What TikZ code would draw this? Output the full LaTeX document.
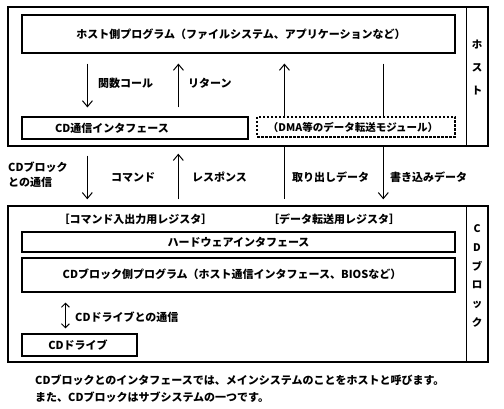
\documentclass[tikz,border=0pt]{standalone}
\usepackage{fontspec}
\usetikzlibrary{arrows.meta,calc}
\newfontfamily\jp{Noto Sans CJK JP}
\begin{document}
\begin{tikzpicture}[x=1pt,y=-1pt,
  txt/.style={font=\jp\bfseries\fontsize{11}{13}\selectfont, inner sep=0pt},
  box/.style={draw, line width=1.1pt, inner sep=0pt},
  outer/.style={draw, line width=1.4pt, inner sep=0pt},
  arr/.style={line width=1pt, -{Straight Barb[length=6pt,width=10pt]}},
  dbl/.style={line width=1pt, {Straight Barb[length=4pt,width=8pt]}-{Straight Barb[length=4pt,width=8pt]}},
  plain/.style={line width=1pt}]
\useasboundingbox (0,0) rectangle (504,409);
\fill[white] (0,0) rectangle (504,409);

% ---------- host ----------
\node[outer, minimum width=480pt, minimum height=139pt] (host) at (248,76.5) {};
\draw[line width=1.2pt] ([xshift=-22pt]host.north east) -- ([xshift=-22pt]host.south east);
\node[txt, align=center, font=\jp\bfseries\fontsize{10.5}{23}\selectfont] (hostlbl) at (477,68) {ホ\\ス\\ト};

\node[box, minimum width=433pt, minimum height=38pt] (hostprog) at (238.5,34) {};
\node[txt] (hostprogtxt) at (241,34) {ホスト側プログラム（ファイルシステム、アプリケーションなど）};

\node[box, minimum width=226pt, minimum height=22pt] (cdif) at (135,128) {};
\node[txt] (cdiftxt) at (112,128) {CD通信インタフェース};

\node[box, dashed, dash pattern=on 2.5pt off 1.5pt, minimum width=198pt, minimum height=20pt] (dma) at (356,127) {};
\node[txt, font=\jp\bfseries\fontsize{10.5}{13}\selectfont] (dmatxt) at (353,127) {（DMA等のデータ転送モジュール）};

\coordinate (h1a) at ($(hostprog.south west)+(66,10)$);
\coordinate (h1b) at ($(cdif.north west)+(66,-9)$);
\draw[arr] (h1a) -- (h1b);
\coordinate (h2a) at ($(hostprog.south west)+(157,10)$);
\coordinate (h2b) at ($(cdif.north west)+(157,-9)$);
\draw[arr] (h2b) -- (h2a);
\coordinate (h3a) at ($(hostprog.south west)+(263,10)$);
\coordinate (h3b) at ($(dma.north west)+(28,0)$);
\draw[arr] (h3b) -- (h3a);
\coordinate (h4a) at ($(hostprog.south west)+(362,10)$);
\coordinate (h4b) at ($(dma.north west)+(127,0)$);
\draw[plain] (h4a) -- (h4b);

\node[txt, anchor=west] (callt) at (98,83) {関数コール};
\node[txt, anchor=west] (rett) at (188,83) {リターン};

% ---------- CD block ----------
\node[outer, minimum width=480pt, minimum height=156pt] (cdb) at (248,284) {};
\draw[line width=1.2pt] ([xshift=-22pt]cdb.north east) -- ([xshift=-22pt]cdb.south east);
\node[txt, align=center, font=\jp\bfseries\fontsize{10.5}{18.8}\selectfont] (cdblbl) at (477,276) {C\\D\\ブ\\ロ\\ッ\\ク};

% between blocks
\coordinate (c1a) at ($(host.south west)+(80,9)$);
\coordinate (c1b) at ($(cdb.north west)+(80,-6)$);
\draw[arr] (c1a) -- (c1b);
\coordinate (c2a) at ($(host.south west)+(171,7)$);
\coordinate (c2b) at ($(cdb.north west)+(171,-6)$);
\draw[arr] (c2b) -- (c2a);
\coordinate (c3a) at ($(host.south west)+(277,0)$);
\coordinate (c3b) at ($(cdb.north west)+(277,-6)$);
\draw[plain] (c3a) -- (c3b);
\coordinate (c4a) at ($(host.south west)+(376,0)$);
\coordinate (c4b) at ($(cdb.north west)+(376,-6)$);
\draw[arr] (c4a) -- (c4b);

\node[txt, anchor=west, align=left, font=\jp\bfseries\fontsize{11}{15}\selectfont] (commt) at (8,174.5) {CDブロック\\との通信};
\node[txt, anchor=west] (cmdt) at (111,177) {コマンド};
\node[txt, anchor=west] (respt) at (192,177) {レスポンス};
\node[txt, anchor=west] (readt) at (292,177) {取り出しデータ};
\node[txt, anchor=west] (writet) at (390,177) {書き込みデータ};

\node[txt] (reg1) at (135.5,219) {［コマンド入出力用レジスタ］};
\node[txt] (reg2) at (334,219) {［データ転送用レジスタ］};

\node[box, minimum width=433pt, minimum height=20pt] (hw) at (238.5,242) {};
\node[txt] (hwtxt) at (238.5,242) {ハードウェアインタフェース};

\node[box, minimum width=433pt, minimum height=34pt] (prog) at (238.5,275) {};
\node[txt] (progtxt) at (232,274) {CDブロック側プログラム（ホスト通信インタフェース、BIOSなど）};

\node[box, minimum width=115pt, minimum height=22pt] (drive) at (79.5,345) {};
\node[txt] (drivetxt) at (78,345) {CDドライブ};

\coordinate (d1a) at ($(prog.south west)+(44,10)$);
\coordinate (d1b) at ($(drive.north west)+(44,-5)$);
\draw[dbl] (d1a) -- (d1b);
\node[txt, anchor=west] (drvcommt) at (75,317) {CDドライブとの通信};

% caption
\node[txt, anchor=west, align=left, font=\jp\bfseries\fontsize{11}{17}\selectfont] (cap) at (35,388.5) {CDブロックとのインタフェースでは、メインシステムのことをホストと呼びます。\\また、CDブロックはサブシステムの一つです。};
\end{tikzpicture}
\end{document}
